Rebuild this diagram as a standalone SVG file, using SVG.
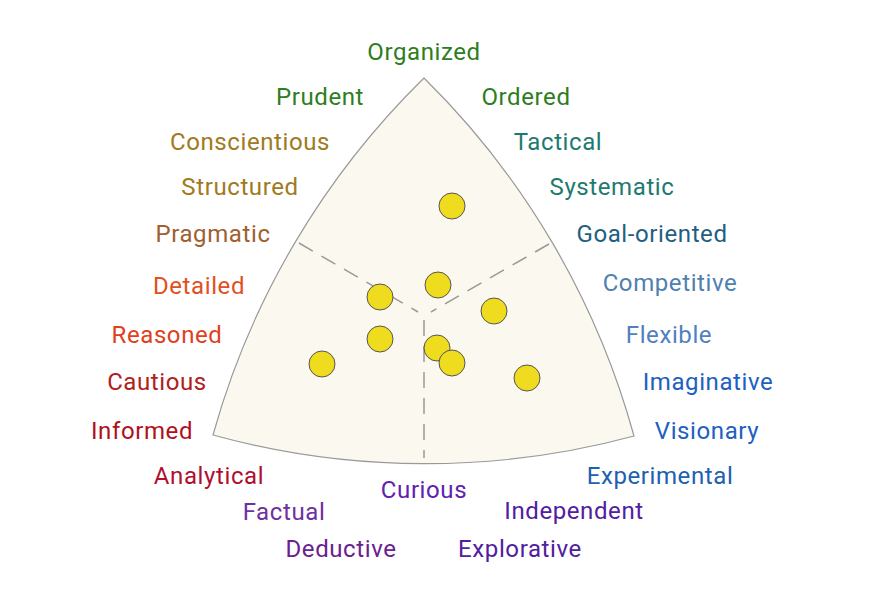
<svg xmlns="http://www.w3.org/2000/svg" width="875" height="614" viewBox="0 0 875 614">
<style>
text{font-family:Roboto,"Liberation Sans",sans-serif;font-size:24px;letter-spacing:0.6px;text-anchor:middle;dominant-baseline:central}
.dot{fill:#f0dc1e;stroke:#555;stroke-width:1}
.dash{stroke:#999;stroke-width:1.5;stroke-dasharray:16 10;fill:none}
</style>
<rect width="875" height="614" fill="#fff"/>
<g id="triangle"><path d="M424,78 A800,800 0 0 1 634,436 A800,800 0 0 1 213,435 A800,800 0 0 1 424,78 Z" fill="#fbf9ef" stroke="#999" stroke-width="1.2"/></g>
<g id="connectors">
<line class="dash" x1="299" y1="243" x2="418" y2="312"/>
<line class="dash" x1="549" y1="244" x2="431" y2="312"/>
<line class="dash" x1="424" y1="320" x2="424" y2="458"/>
</g>
<g id="points">
<circle class="dot" cx="452" cy="206" r="13"/>
<circle class="dot" cx="438" cy="285" r="13"/>
<circle class="dot" cx="380" cy="297" r="13"/>
<circle class="dot" cx="494" cy="311" r="13"/>
<circle class="dot" cx="380" cy="339" r="13"/>
<circle class="dot" cx="322" cy="364" r="13"/>
<circle class="dot" cx="437" cy="348" r="13"/>
<circle class="dot" cx="452" cy="363" r="13"/>
<circle class="dot" cx="527" cy="378" r="13"/>
</g>
<g id="labels">
<text x="424" y="52" fill="#2e7d1e">Organized</text>
<text x="320" y="97" fill="#2e7d1e">Prudent</text>
<text x="526" y="97" fill="#2e7d1e">Ordered</text>
<text x="250" y="142" fill="#a07a20">Conscientious</text>
<text x="558" y="142" fill="#1e7a70">Tactical</text>
<text x="240" y="187" fill="#a07a20">Structured</text>
<text x="612" y="187" fill="#1e7a70">Systematic</text>
<text x="213" y="234" fill="#a06030">Pragmatic</text>
<text x="652" y="234" fill="#1e6080">Goal-oriented</text>
<text x="199" y="286" fill="#e05020">Detailed</text>
<text x="670" y="283" fill="#5080b0">Competitive</text>
<text x="167" y="335" fill="#e04020">Reasoned</text>
<text x="669" y="335" fill="#5080c0">Flexible</text>
<text x="157" y="382" fill="#b02020">Cautious</text>
<text x="708" y="382" fill="#2060c0">Imaginative</text>
<text x="142" y="431" fill="#b01020">Informed</text>
<text x="707" y="431" fill="#2060c0">Visionary</text>
<text x="209" y="476" fill="#b01030">Analytical</text>
<text x="660" y="476" fill="#2060b0">Experimental</text>
<text x="284" y="512" fill="#7030a0">Factual</text>
<text x="424" y="490" fill="#6020b0">Curious</text>
<text x="574" y="511" fill="#5020a0">Independent</text>
<text x="341" y="549" fill="#6a2090">Deductive</text>
<text x="520" y="549" fill="#5020a0">Explorative</text>
</g>
</svg>
